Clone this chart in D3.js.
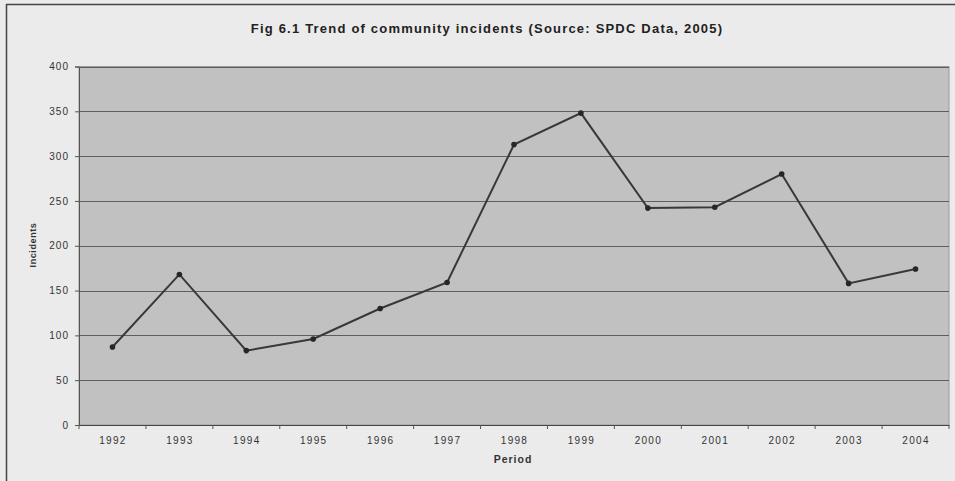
<!DOCTYPE html>
<html>
<head>
<meta charset="utf-8">
<script src="https://cdn.jsdelivr.net/npm/d3@7"></script>
<style>
  html, body { margin: 0; padding: 0; background: #ebebeb; }
  svg { display: block; font-family: Arial, "Liberation Sans", sans-serif; }
</style>
</head>
<body>
<svg id="chart" width="955" height="481"></svg>
<script>
// Community incidents per year
const years = ["1992","1993","1994","1995","1996","1997","1998","1999","2000","2001","2002","2003","2004"];
const incidents = [87, 168, 83, 96, 130, 159, 313, 348, 242, 243, 280, 158, 174];
const yTicks = [0, 50, 100, 150, 200, 250, 300, 350, 400];

const titleText = "Fig 6.1 Trend of community incidents (Source: SPDC Data, 2005)";
const xTitle = "Period";
const yTitle = "Incidents";

const svg = d3.select("#chart");
const W = 955, H = 481;
const plot = { left: 79, right: 949, top: 66.5, bottom: 425 };

// outer chart frame
svg.append("rect").attr("x", 0).attr("y", 0).attr("width", W).attr("height", H).attr("fill", "#ebebeb");
svg.append("path")
  .attr("d", `M6.5,${H} V4.5 H${W}`)
  .attr("fill", "none").attr("stroke", "#444").attr("stroke-width", 1.5);

const x = d3.scalePoint().domain(years).range([plot.left, plot.right]).padding(0.5);
const y = d3.scaleLinear().domain([0, 400]).range([plot.bottom, plot.top]);

// plot area
svg.append("rect")
  .attr("x", plot.left).attr("y", plot.top)
  .attr("width", plot.right - plot.left).attr("height", plot.bottom - plot.top)
  .attr("fill", "#c1c1c1").attr("stroke", "#9a9a9a").attr("stroke-width", 1);

// horizontal gridlines
svg.append("g").selectAll("line").data(yTicks.filter(d => d > 0)).join("line")
  .attr("x1", plot.left).attr("x2", plot.right)
  .attr("y1", d => Math.round(y(d)) + 0.5).attr("y2", d => Math.round(y(d)) + 0.5)
  .attr("stroke", "#5e5e5e").attr("stroke-width", 1);

// y axis
const yAxis = d3.axisLeft(y).tickValues(yTicks).tickSize(4).tickPadding(6);
const gy = svg.append("g").attr("transform", `translate(${plot.left},0)`).call(yAxis);
gy.select(".domain").attr("stroke", "#555");
gy.selectAll(".tick line").attr("stroke", "#555");
gy.selectAll("text").attr("font-size", 10).attr("fill", "#333").attr("letter-spacing", 1);

// x axis with ticks between categories
const step = x.step();
const xAxis = d3.axisBottom(x).tickSize(0).tickPadding(12);
const gx = svg.append("g").attr("transform", `translate(0,${plot.bottom})`).call(xAxis);
gx.select(".domain").attr("stroke", "#444").attr("stroke-width", 1.2);
gx.selectAll("text").attr("font-size", 10).attr("fill", "#333").attr("letter-spacing", 1.3);
gx.append("g").selectAll("line").data(d3.range(years.length + 1)).join("line")
  .attr("x1", i => plot.left + i * step).attr("x2", i => plot.left + i * step)
  .attr("y1", 0).attr("y2", 4).attr("stroke", "#555");

// series line
const line = d3.line().x((d, i) => x(years[i])).y(d => y(d));
svg.append("path").datum(incidents)
  .attr("d", line).attr("fill", "none")
  .attr("stroke", "#383838").attr("stroke-width", 2);

svg.append("g").selectAll("circle").data(incidents).join("circle")
  .attr("cx", (d, i) => x(years[i])).attr("cy", d => y(d)).attr("r", 2.8)
  .attr("fill", "#262626");

// titles
svg.append("text").attr("x", 487).attr("y", 33).attr("text-anchor", "middle")
  .attr("font-size", 13).attr("font-weight", "bold").attr("fill", "#222")
  .attr("letter-spacing", 1.2).text(titleText);

svg.append("text").attr("x", 513).attr("y", 463).attr("text-anchor", "middle")
  .attr("font-size", 10.5).attr("font-weight", "bold").attr("fill", "#333")
  .attr("letter-spacing", 1).text(xTitle);

svg.append("text").attr("transform", "translate(36,245) rotate(-90)")
  .attr("text-anchor", "middle").attr("font-size", 9).attr("font-weight", "bold")
  .attr("fill", "#333").attr("letter-spacing", 0.6).text(yTitle);
</script>
</body>
</html>
